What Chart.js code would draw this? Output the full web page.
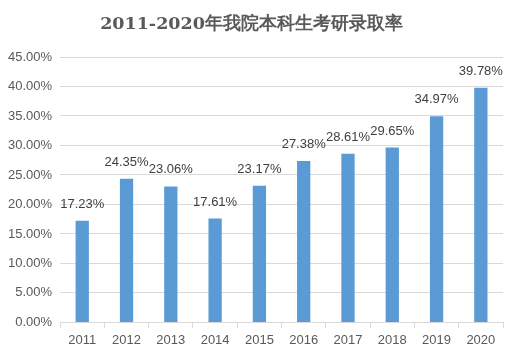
<!DOCTYPE html>
<html>
<head>
<meta charset="utf-8">
<script src="https://cdn.jsdelivr.net/npm/chart.js@4/dist/chart.umd.min.js"></script>
<style>
  html, body { margin: 0; padding: 0; background: #fff; }
  #wrap { width: 519px; height: 360px; }
</style>
</head>
<body>
<div id="wrap"><canvas id="rateChart"></canvas></div>
<script>
// data
const years = ['2011', '2012', '2013', '2014', '2015', '2016', '2017', '2018', '2019', '2020'];
const rates = [17.23, 24.35, 23.06, 17.61, 23.17, 27.38, 28.61, 29.65, 34.97, 39.78];
const yMax = 45;
const yStep = 5;

const axisFont = { family: '"Liberation Sans", Arial, sans-serif', size: 13 };

// draw the value above each bar
const valueLabels = {
    id: 'valueLabels',
    afterDatasetsDraw(chart) {
        const ctx = chart.ctx;
        const meta = chart.getDatasetMeta(0);
        ctx.save();
        ctx.font = '13px "Liberation Sans", Arial, sans-serif';
        ctx.fillStyle = '#404040';
        ctx.textAlign = 'center';
        ctx.textBaseline = 'alphabetic';
        meta.data.forEach((bar, i) => {
            ctx.fillText(rates[i].toFixed(2) + '%', bar.x, bar.y - 13);
        });
        ctx.restore();
    }
};

const ctx = document.getElementById('rateChart').getContext('2d');
new Chart(ctx, {
    type: 'bar',
    data: {
        labels: years,
        datasets: [{
            data: rates,
            backgroundColor: '#5b9bd5',
            borderWidth: 0,
            barPercentage: 0.3,
            categoryPercentage: 1
        }]
    },
    options: {
        responsive: true,
        maintainAspectRatio: false,
        animation: false,
        layout: { padding: { left: 0, right: 16, top: 0, bottom: 8 } },
        plugins: {
            legend: { display: false },
            tooltip: { enabled: false },
            title: {
                display: true,
                text: '2011-2020年我院本科生考研录取率',
                color: '#595959',
                font: { family: '"DejaVu Serif", "Liberation Serif", serif', size: 17.5, weight: 'bold' },
                padding: { top: 14, bottom: 22 }
            }
        },
        scales: {
            x: {
                grid: {
                    drawOnChartArea: false,
                    color: '#d9d9d9',
                    tickLength: 6
                },
                border: { color: '#d9d9d9' },
                ticks: {
                    color: '#595959',
                    font: axisFont,
                    padding: 4
                }
            },
            y: {
                min: 0,
                max: yMax,
                ticks: {
                    stepSize: yStep,
                    color: '#595959',
                    font: axisFont,
                    padding: 8,
                    callback: v => v.toFixed(2) + '%'
                },
                grid: { color: '#d9d9d9', drawTicks: false },
                border: { display: false }
            }
        }
    },
    plugins: [valueLabels]
});
</script>
</body>
</html>
